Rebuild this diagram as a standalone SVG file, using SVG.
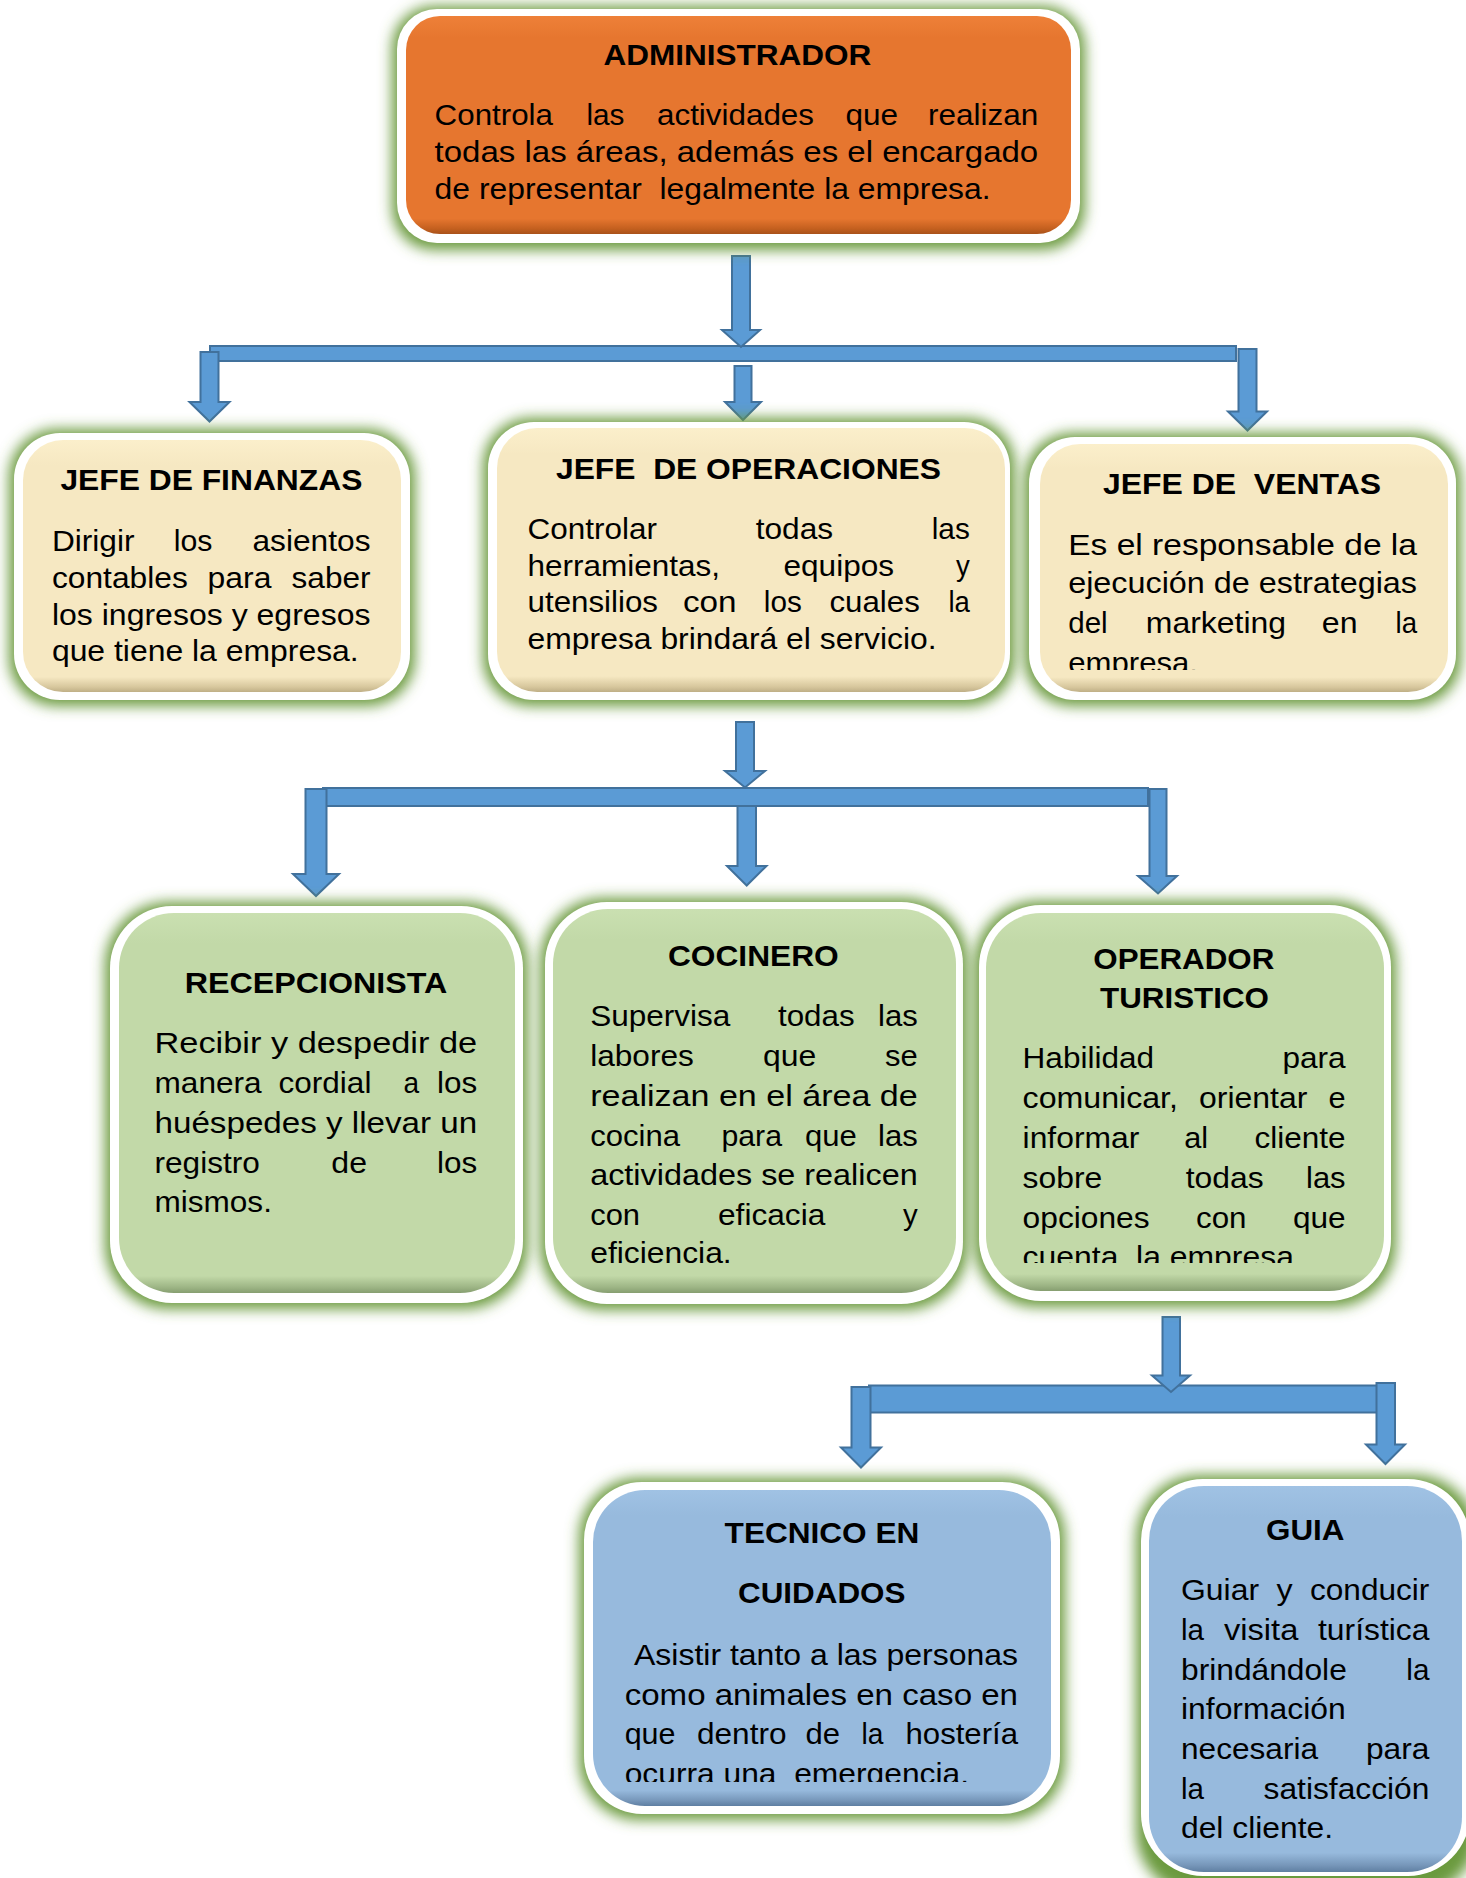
<svg xmlns="http://www.w3.org/2000/svg" width="1466" height="1878" viewBox="0 0 1466 1878">
<defs>
<style>
.t{font-family:"Liberation Sans",Arial,sans-serif;font-weight:bold;font-size:30px;fill:#000}
.b{font-family:"Liberation Sans",Arial,sans-serif;font-size:30px;fill:#000}
.glow{fill:#6A9A3E;filter:url(#gl)}
.wb{fill:#FFFFFF}
.arr{fill:#5B9BD5;stroke:#41719C;stroke-width:2}
.orange{fill:url(#gO)}
.cream{fill:url(#gC)}
.green{fill:url(#gG)}
.blue{fill:url(#gB)}
</style>
<filter id="gl" x="-20%" y="-20%" width="140%" height="140%"><feGaussianBlur stdDeviation="7"/></filter>
<linearGradient id="gO" x1="0" y1="0" x2="0" y2="1"><stop offset="0" stop-color="#EE8038"/><stop offset="0.1" stop-color="#E6762F"/><stop offset="0.93" stop-color="#E6762F"/><stop offset="0.975" stop-color="#C4601F"/><stop offset="1" stop-color="#A9521A"/></linearGradient>
<linearGradient id="gC" x1="0" y1="0" x2="0" y2="1"><stop offset="0" stop-color="#FBEFCB"/><stop offset="0.1" stop-color="#F6E8C2"/><stop offset="0.94" stop-color="#F6E8C2"/><stop offset="0.98" stop-color="#D7C79D"/><stop offset="1" stop-color="#BFAF86"/></linearGradient>
<linearGradient id="gG" x1="0" y1="0" x2="0" y2="1"><stop offset="0" stop-color="#CAE0B1"/><stop offset="0.08" stop-color="#C2D9A8"/><stop offset="0.955" stop-color="#C2D9A8"/><stop offset="0.985" stop-color="#9DB585"/><stop offset="1" stop-color="#869E70"/></linearGradient>
<linearGradient id="gB" x1="0" y1="0" x2="0" y2="1"><stop offset="0" stop-color="#A0C2E4"/><stop offset="0.08" stop-color="#97BADD"/><stop offset="0.95" stop-color="#97BADD"/><stop offset="0.982" stop-color="#7797BA"/><stop offset="1" stop-color="#5F7FA2"/></linearGradient>
<clipPath id="cV"><rect x="1040" y="440" width="410" height="230"/></clipPath>
<clipPath id="cO"><rect x="986" y="905" width="400" height="358"/></clipPath>
<clipPath id="cT"><rect x="593" y="1485" width="460" height="297"/></clipPath>
</defs>
<rect width="1466" height="1878" fill="#FFFFFF"/>

<g id="connectors">
<rect class="arr" x="210" y="346" width="1026" height="15"/>
<path class="arr" d="M732 256H750V330H760L741 347L722 330H732Z"/>
<path class="arr" d="M200.5 352H218.5V402H229.5L209.5 421.5L189.5 402H200.5Z"/>
<path class="arr" d="M734.5 366H751.5V402H761L743 420L725 402H734.5Z"/>
<path class="arr" d="M1238.5 349H1256.5V411.5H1267L1247.5 430.5L1228 411.5H1238.5Z"/>

<rect class="arr" x="323" y="788" width="825" height="18"/>
<path class="arr" d="M736 722H754V771H765L745 787.5L725 771H736Z"/>
<path class="arr" d="M305.5 789H326.5V874H339L316 896L293 874H305.5Z"/>
<path class="arr" d="M737.5 806H756V866H766.5L746.7 885.5L727 866H737.5Z"/>
<path class="arr" d="M1149.5 789H1166.5V876H1177L1158 893.5L1138 876H1149.5Z"/>

<rect class="arr" x="869" y="1385.5" width="508.5" height="27"/>
<path class="arr" d="M1162.5 1317H1180V1375.5H1190L1171 1392L1152 1375.5H1162.5Z"/>
<path class="arr" d="M851.5 1387H870.5V1447.5H881L861 1467.5L841 1447.5H851.5Z"/>
<path class="arr" d="M1376.5 1383H1395V1444.5H1405L1385.5 1464L1366 1444.5H1376.5Z"/>
</g>

<g id="administrador">
<rect class="glow" x="392" y="6" width="693" height="244" rx="42"/>
<rect class="wb" x="397" y="9" width="683" height="234" rx="40"/>
<rect class="orange" x="406" y="16" width="665" height="218" rx="34"/>
<text class="t" x="603.4" y="65" textLength="268" lengthAdjust="spacingAndGlyphs">ADMINISTRADOR</text>
<text class="b" x="434.6" y="125" textLength="118.4" lengthAdjust="spacingAndGlyphs">Controla</text>
<text class="b" x="586.4" y="125" textLength="38" lengthAdjust="spacingAndGlyphs">las</text>
<text class="b" x="657" y="125" textLength="157" lengthAdjust="spacingAndGlyphs">actividades</text>
<text class="b" x="845.4" y="125" textLength="52.6" lengthAdjust="spacingAndGlyphs">que</text>
<text class="b" x="928" y="125" textLength="110.2" lengthAdjust="spacingAndGlyphs">realizan</text>
<text class="b" x="434.6" y="161.5" textLength="603.6" lengthAdjust="spacingAndGlyphs">todas las áreas, además es el encargado</text>
<text class="b" x="434.6" y="198.5" textLength="556" lengthAdjust="spacingAndGlyphs" xml:space="preserve">de representar  legalmente la empresa.</text>
</g>

<g id="jefe-finanzas">
<rect class="glow" x="9" y="429" width="406" height="277" rx="48"/>
<rect class="wb" x="14" y="433" width="396" height="267" rx="46"/>
<rect class="cream" x="23" y="440" width="378" height="252" rx="40"/>
<text class="t" x="60.4" y="490" textLength="302" lengthAdjust="spacingAndGlyphs">JEFE DE FINANZAS</text>
<text class="b" x="51.9" y="551" textLength="82.6" lengthAdjust="spacingAndGlyphs">Dirigir</text>
<text class="b" x="173.7" y="551" textLength="38.7" lengthAdjust="spacingAndGlyphs">los</text>
<text class="b" x="252.5" y="551" textLength="118" lengthAdjust="spacingAndGlyphs">asientos</text>
<text class="b" x="51.9" y="588" textLength="135.9" lengthAdjust="spacingAndGlyphs">contables</text>
<text class="b" x="207.6" y="588" textLength="63.8" lengthAdjust="spacingAndGlyphs">para</text>
<text class="b" x="291.6" y="588" textLength="78.9" lengthAdjust="spacingAndGlyphs">saber</text>
<text class="b" x="51.9" y="624.5" textLength="318.6" lengthAdjust="spacingAndGlyphs">los ingresos y egresos</text>
<text class="b" x="51.9" y="661" textLength="306.8" lengthAdjust="spacingAndGlyphs">que tiene la empresa.</text>
</g>

<g id="jefe-operaciones">
<rect class="glow" x="483" y="418" width="532" height="288" rx="48"/>
<rect class="wb" x="488" y="422" width="522" height="278" rx="46"/>
<rect class="cream" x="497" y="428" width="508" height="264" rx="40"/>
<text class="t" x="556" y="479" textLength="385" lengthAdjust="spacingAndGlyphs" xml:space="preserve">JEFE  DE OPERACIONES</text>
<text class="b" x="527.6" y="539" textLength="129.4" lengthAdjust="spacingAndGlyphs">Controlar</text>
<text class="b" x="755.7" y="539" textLength="77.5" lengthAdjust="spacingAndGlyphs">todas</text>
<text class="b" x="931.7" y="539" textLength="38.1" lengthAdjust="spacingAndGlyphs">las</text>
<text class="b" x="527.6" y="575.5" textLength="192.4" lengthAdjust="spacingAndGlyphs">herramientas,</text>
<text class="b" x="783.5" y="575.5" textLength="110.5" lengthAdjust="spacingAndGlyphs">equipos</text>
<text class="b" x="956" y="575.5" textLength="13.8" lengthAdjust="spacingAndGlyphs">y</text>
<text class="b" x="527.6" y="612" textLength="130.4" lengthAdjust="spacingAndGlyphs">utensilios</text>
<text class="b" x="683" y="612" textLength="53.6" lengthAdjust="spacingAndGlyphs">con</text>
<text class="b" x="763.8" y="612" textLength="38" lengthAdjust="spacingAndGlyphs">los</text>
<text class="b" x="829.4" y="612" textLength="90.4" lengthAdjust="spacingAndGlyphs">cuales</text>
<text class="b" x="948.4" y="612" textLength="21.4" lengthAdjust="spacingAndGlyphs">la</text>
<text class="b" x="527.6" y="649" textLength="409" lengthAdjust="spacingAndGlyphs">empresa brindará el servicio.</text>
</g>

<g id="jefe-ventas">
<rect class="glow" x="1024" y="433" width="437" height="273" rx="48"/>
<rect class="wb" x="1029" y="437" width="427" height="263" rx="46"/>
<rect class="cream" x="1040" y="444" width="408" height="248" rx="40"/>
<text class="t" x="1103" y="494" textLength="278" lengthAdjust="spacingAndGlyphs" xml:space="preserve">JEFE DE  VENTAS</text>
<text class="b" x="1068.2" y="555" textLength="348.8" lengthAdjust="spacingAndGlyphs">Es el responsable de la</text>
<text class="b" x="1068.2" y="592.7" textLength="348.8" lengthAdjust="spacingAndGlyphs">ejecución de estrategias</text>
<text class="b" x="1068.2" y="633" textLength="39.5" lengthAdjust="spacingAndGlyphs">del</text>
<text class="b" x="1145.8" y="633" textLength="140.2" lengthAdjust="spacingAndGlyphs">marketing</text>
<text class="b" x="1321.8" y="633" textLength="35.7" lengthAdjust="spacingAndGlyphs">en</text>
<text class="b" x="1395.5" y="633" textLength="21.5" lengthAdjust="spacingAndGlyphs">la</text>
<text class="b" x="1068.2" y="672.5" textLength="129.8" lengthAdjust="spacingAndGlyphs" clip-path="url(#cV)">empresa.</text>
</g>

<g id="recepcionista">
<rect class="glow" x="105" y="902" width="423" height="407" rx="64"/>
<rect class="wb" x="110" y="906" width="413" height="397" rx="62"/>
<rect class="green" x="119" y="913" width="396" height="380" rx="55"/>
<text class="t" x="184.8" y="992.5" textLength="262.5" lengthAdjust="spacingAndGlyphs">RECEPCIONISTA</text>
<text class="b" x="154.5" y="1053" textLength="322.7" lengthAdjust="spacingAndGlyphs">Recibir y despedir de</text>
<text class="b" x="154.5" y="1093" textLength="107.1" lengthAdjust="spacingAndGlyphs">manera</text>
<text class="b" x="278.6" y="1093" textLength="92.8" lengthAdjust="spacingAndGlyphs">cordial</text>
<text class="b" x="403.6" y="1093" textLength="15.6" lengthAdjust="spacingAndGlyphs">a</text>
<text class="b" x="437" y="1093" textLength="40.2" lengthAdjust="spacingAndGlyphs">los</text>
<text class="b" x="154.5" y="1133" textLength="322.7" lengthAdjust="spacingAndGlyphs">huéspedes y llevar un</text>
<text class="b" x="154.5" y="1173" textLength="105.3" lengthAdjust="spacingAndGlyphs">registro</text>
<text class="b" x="331.3" y="1173" textLength="35.7" lengthAdjust="spacingAndGlyphs">de</text>
<text class="b" x="437" y="1173" textLength="40.2" lengthAdjust="spacingAndGlyphs">los</text>
<text class="b" x="154.5" y="1212" textLength="117.4" lengthAdjust="spacingAndGlyphs">mismos.</text>
</g>

<g id="cocinero">
<rect class="glow" x="540" y="898" width="428" height="412" rx="64"/>
<rect class="wb" x="545" y="902" width="418" height="402" rx="62"/>
<rect class="green" x="553" y="909" width="403" height="384" rx="55"/>
<text class="t" x="667.9" y="965.6" textLength="170.9" lengthAdjust="spacingAndGlyphs">COCINERO</text>
<text class="b" x="590.2" y="1026" textLength="140.2" lengthAdjust="spacingAndGlyphs">Supervisa</text>
<text class="b" x="778" y="1026" textLength="76.6" lengthAdjust="spacingAndGlyphs">todas</text>
<text class="b" x="878" y="1026" textLength="39.7" lengthAdjust="spacingAndGlyphs">las</text>
<text class="b" x="590.2" y="1065.6" textLength="103.6" lengthAdjust="spacingAndGlyphs">labores</text>
<text class="b" x="763" y="1065.6" textLength="53.3" lengthAdjust="spacingAndGlyphs">que</text>
<text class="b" x="885" y="1065.6" textLength="32.7" lengthAdjust="spacingAndGlyphs">se</text>
<text class="b" x="590.2" y="1106" textLength="327.5" lengthAdjust="spacingAndGlyphs">realizan en el área de</text>
<text class="b" x="590.2" y="1145.5" textLength="89.8" lengthAdjust="spacingAndGlyphs">cocina</text>
<text class="b" x="721.4" y="1145.5" textLength="60.6" lengthAdjust="spacingAndGlyphs">para</text>
<text class="b" x="805" y="1145.5" textLength="51.8" lengthAdjust="spacingAndGlyphs">que</text>
<text class="b" x="878" y="1145.5" textLength="39.7" lengthAdjust="spacingAndGlyphs">las</text>
<text class="b" x="590.2" y="1185" textLength="327.5" lengthAdjust="spacingAndGlyphs">actividades se realicen</text>
<text class="b" x="590.2" y="1224.5" textLength="49.8" lengthAdjust="spacingAndGlyphs">con</text>
<text class="b" x="718" y="1224.5" textLength="107.3" lengthAdjust="spacingAndGlyphs">eficacia</text>
<text class="b" x="903" y="1224.5" textLength="14.7" lengthAdjust="spacingAndGlyphs">y</text>
<text class="b" x="590.2" y="1263" textLength="141.5" lengthAdjust="spacingAndGlyphs">eficiencia.</text>
</g>

<g id="operador-turistico">
<rect class="glow" x="974" y="901" width="422" height="406" rx="64"/>
<rect class="wb" x="979" y="905" width="412" height="396" rx="62"/>
<rect class="green" x="986" y="913" width="398" height="378" rx="55"/>
<text class="t" x="1093.3" y="968.8" textLength="181" lengthAdjust="spacingAndGlyphs">OPERADOR</text>
<text class="t" x="1100" y="1007.5" textLength="169" lengthAdjust="spacingAndGlyphs">TURISTICO</text>
<text class="b" x="1022.6" y="1068.4" textLength="131.4" lengthAdjust="spacingAndGlyphs">Habilidad</text>
<text class="b" x="1282.5" y="1068.4" textLength="63.1" lengthAdjust="spacingAndGlyphs">para</text>
<text class="b" x="1022.6" y="1108" textLength="155.4" lengthAdjust="spacingAndGlyphs">comunicar,</text>
<text class="b" x="1199" y="1108" textLength="108.3" lengthAdjust="spacingAndGlyphs">orientar</text>
<text class="b" x="1328.5" y="1108" textLength="17.1" lengthAdjust="spacingAndGlyphs">e</text>
<text class="b" x="1022.6" y="1148" textLength="116.7" lengthAdjust="spacingAndGlyphs">informar</text>
<text class="b" x="1184.3" y="1148" textLength="23.9" lengthAdjust="spacingAndGlyphs">al</text>
<text class="b" x="1254.6" y="1148" textLength="91" lengthAdjust="spacingAndGlyphs">cliente</text>
<text class="b" x="1022.6" y="1187.5" textLength="79.7" lengthAdjust="spacingAndGlyphs">sobre</text>
<text class="b" x="1185.7" y="1187.5" textLength="77.9" lengthAdjust="spacingAndGlyphs">todas</text>
<text class="b" x="1306" y="1187.5" textLength="39.6" lengthAdjust="spacingAndGlyphs">las</text>
<text class="b" x="1022.6" y="1227.5" textLength="127" lengthAdjust="spacingAndGlyphs">opciones</text>
<text class="b" x="1196" y="1227.5" textLength="50.5" lengthAdjust="spacingAndGlyphs">con</text>
<text class="b" x="1292.9" y="1227.5" textLength="52.7" lengthAdjust="spacingAndGlyphs">que</text>
<text class="b" x="1022.6" y="1266.5" textLength="280.2" lengthAdjust="spacingAndGlyphs" clip-path="url(#cO)" xml:space="preserve">cuenta  la empresa.</text>
</g>

<g id="tecnico-en-cuidados">
<rect class="glow" x="579" y="1478" width="486" height="342" rx="60"/>
<rect class="wb" x="584" y="1482" width="476" height="332" rx="58"/>
<rect class="blue" x="593" y="1490" width="458" height="316" rx="52"/>
<text class="t" x="724.6" y="1542.5" textLength="194.7" lengthAdjust="spacingAndGlyphs">TECNICO EN</text>
<text class="t" x="738" y="1603" textLength="167.5" lengthAdjust="spacingAndGlyphs">CUIDADOS</text>
<text class="b" x="634" y="1665" textLength="384" lengthAdjust="spacingAndGlyphs">Asistir tanto a las personas</text>
<text class="b" x="624.7" y="1704.7" textLength="393.3" lengthAdjust="spacingAndGlyphs">como animales en caso en</text>
<text class="b" x="624.7" y="1744" textLength="50.8" lengthAdjust="spacingAndGlyphs">que</text>
<text class="b" x="697" y="1744" textLength="89.5" lengthAdjust="spacingAndGlyphs">dentro</text>
<text class="b" x="805.5" y="1744" textLength="34.5" lengthAdjust="spacingAndGlyphs">de</text>
<text class="b" x="861.6" y="1744" textLength="21.9" lengthAdjust="spacingAndGlyphs">la</text>
<text class="b" x="905.5" y="1744" textLength="112.5" lengthAdjust="spacingAndGlyphs">hostería</text>
<text class="b" x="624.7" y="1783.5" textLength="344.3" lengthAdjust="spacingAndGlyphs" clip-path="url(#cT)" xml:space="preserve">ocurra una  emergencia.</text>
</g>

<g id="guia">
<rect class="glow" x="1136" y="1475" width="342" height="420" rx="64"/>
<rect class="wb" x="1141" y="1479" width="329" height="397" rx="62"/>
<rect class="blue" x="1149" y="1486" width="313" height="386" rx="55"/>
<text class="t" x="1266" y="1539.6" textLength="78.5" lengthAdjust="spacingAndGlyphs">GUIA</text>
<text class="b" x="1181" y="1600.4" textLength="78" lengthAdjust="spacingAndGlyphs">Guiar</text>
<text class="b" x="1276.4" y="1600.4" textLength="16.1" lengthAdjust="spacingAndGlyphs">y</text>
<text class="b" x="1310" y="1600.4" textLength="119.4" lengthAdjust="spacingAndGlyphs">conducir</text>
<text class="b" x="1181" y="1639.8" textLength="23" lengthAdjust="spacingAndGlyphs">la</text>
<text class="b" x="1224" y="1639.8" textLength="74.3" lengthAdjust="spacingAndGlyphs">visita</text>
<text class="b" x="1318" y="1639.8" textLength="111.4" lengthAdjust="spacingAndGlyphs">turística</text>
<text class="b" x="1181" y="1679.7" textLength="165.8" lengthAdjust="spacingAndGlyphs">brindándole</text>
<text class="b" x="1406.3" y="1679.7" textLength="23.1" lengthAdjust="spacingAndGlyphs">la</text>
<text class="b" x="1181" y="1719" textLength="164.7" lengthAdjust="spacingAndGlyphs">información</text>
<text class="b" x="1181" y="1758.9" textLength="137" lengthAdjust="spacingAndGlyphs">necesaria</text>
<text class="b" x="1366" y="1758.9" textLength="63.4" lengthAdjust="spacingAndGlyphs">para</text>
<text class="b" x="1181" y="1799.4" textLength="23" lengthAdjust="spacingAndGlyphs">la</text>
<text class="b" x="1263.6" y="1799.4" textLength="165.8" lengthAdjust="spacingAndGlyphs">satisfacción</text>
<text class="b" x="1181" y="1838" textLength="152" lengthAdjust="spacingAndGlyphs">del cliente.</text>
</g>
</svg>
